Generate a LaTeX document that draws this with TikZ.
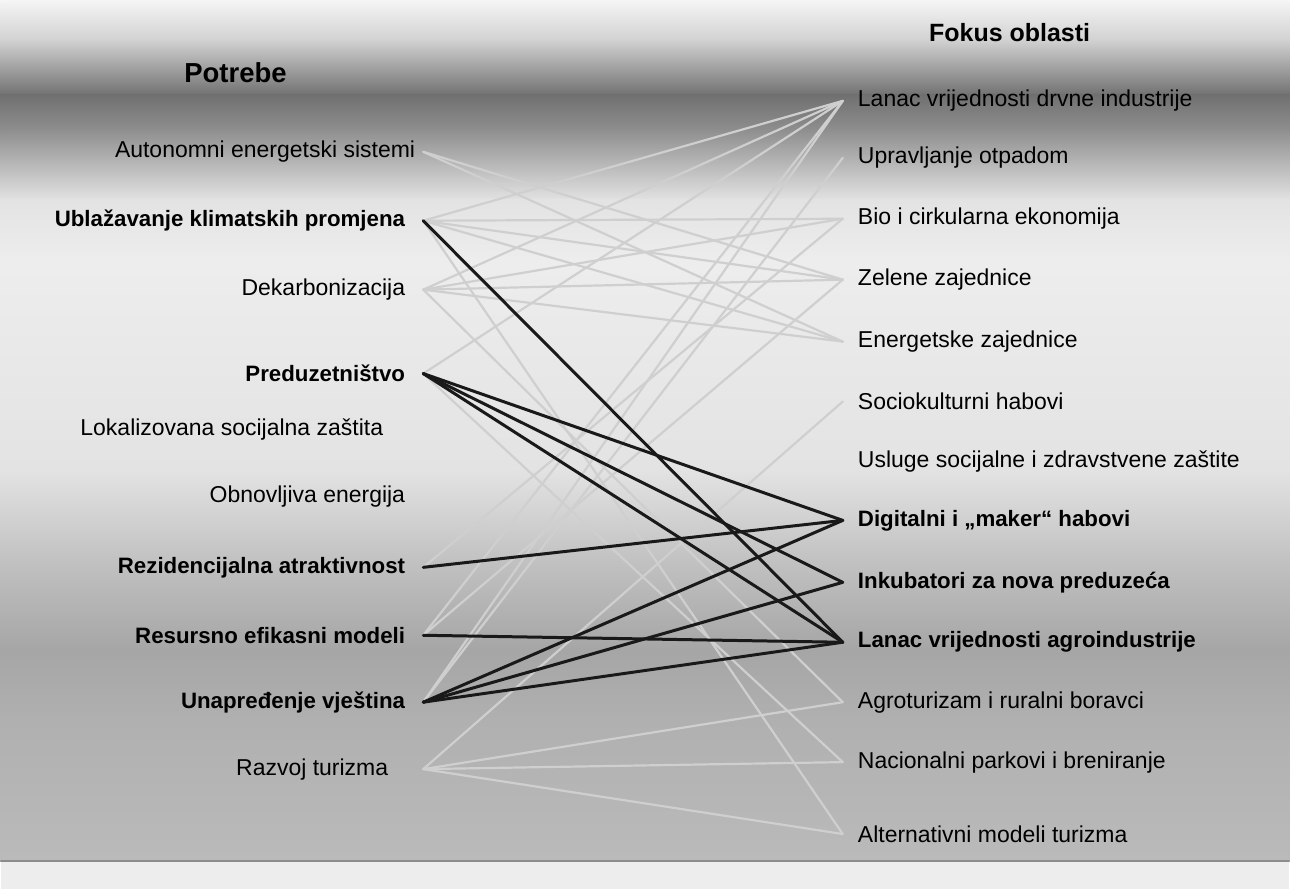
\documentclass[tikz,border=0pt]{standalone}
\usepackage{fontspec}
\setmainfont{Liberation Sans}
\usetikzlibrary{positioning}

\tikzset{
  need/.style={anchor=east, inner xsep=18pt, inner ysep=0pt, font=\fontsize{23}{27}\selectfont},
  needb/.style={need, font=\fontsize{22.3}{27}\selectfont\bfseries},
  area/.style={anchor=west, inner xsep=15pt, inner ysep=0pt, font=\fontsize{23}{27}\selectfont},
  areab/.style={area, font=\fontsize{22.3}{27}\selectfont\bfseries},
  head/.style={font=\fontsize{25}{30}\selectfont\bfseries},
  weak/.style={draw=black!19, line width=2.2pt},
  strong/.style={draw=black!90, line width=3pt},
}

\begin{document}
\begin{tikzpicture}[x=1pt,y=-1pt,line cap=round]

    % scanned grey background
    \shade[top color=black!4, bottom color=black!18] (0,0) rectangle (1290,41);
    \shade[top color=black!18, bottom color=black!56] (0,40) rectangle (1290,96);
    \shade[top color=black!56, bottom color=black!44] (0,95) rectangle (1290,131);
    \shade[top color=black!44, bottom color=black!11] (0,130) rectangle (1290,201);
    \shade[top color=black!11, bottom color=black!7] (0,200) rectangle (1290,261);
    \shade[top color=black!7, bottom color=black!11] (0,260) rectangle (1290,471);
    \shade[top color=black!11, bottom color=black!24] (0,470) rectangle (1290,561);
    \shade[top color=black!24, bottom color=black!35] (0,560) rectangle (1290,651);
    \shade[top color=black!35, bottom color=black!31] (0,650) rectangle (1290,721);
    \shade[top color=black!31, bottom color=black!27] (0,720) rectangle (1290,862);
    \fill[black!7] (0,862) rectangle (1290,890);
    \draw[black!45, line width=1.5pt] (0,862) -- (1290,862);
    \useasboundingbox (0,0) rectangle (1290,890);

    \node[head, font=\fontsize{27.5}{30}\selectfont\bfseries] (pot) at (235,73) {Potrebe};
    \node[head] (fok) at (1010,33) {Fokus oblasti};

    % needs
    \node[need, inner xsep=8pt] (aut) at (423,152) {Autonomni energetski sistemi};
    \node[needb] (ubl) at (423,221) {Ublažavanje klimatskih promjena};
    \node[need] (dek) at (423,290) {Dekarbonizacija};
    \node[needb] (pre) at (423,374) {Preduzetništvo};
    \node[need, inner xsep=40pt] (lok) at (423,430) {Lokalizovana socijalna zaštita};
    \node[need] (obn) at (423,497) {Obnovljiva energija};
    \node[needb] (rez) at (423,568) {Rezidencijalna atraktivnost};
    \node[needb] (res) at (423,636) {Resursno efikasni modeli};
    \node[needb] (una) at (423,703) {Unapređenje vještina};
    \node[need, inner xsep=35pt] (raz) at (423,770) {Razvoj turizma};

    % focus areas
    \node[area] (drv) at (843,101) {Lanac vrijednosti drvne industrije};
    \node[area] (otp) at (843,158) {Upravljanje otpadom};
    \node[area] (bio) at (843,219) {Bio i cirkularna ekonomija};
    \node[area] (zel) at (843,280) {Zelene zajednice};
    \node[area] (ene) at (843,342) {Energetske zajednice};
    \node[area] (soc) at (843,402) {Sociokulturni habovi};
    \node[area] (usl) at (843,462) {Usluge socijalne i zdravstvene zaštite};
    \node[areab] (dig) at (843,521) {Digitalni i „maker“ habovi};
    \node[areab] (ink) at (843,583) {Inkubatori za nova preduzeća};
    \node[areab] (agr) at (843,643) {Lanac vrijednosti agroindustrije};
    \node[area] (tur) at (843,703) {Agroturizam i ruralni boravci};
    \node[area] (nac) at (843,763) {Nacionalni parkovi i breniranje};
    \node[area] (alt) at (843,835) {Alternativni modeli turizma};

    % other links
    \draw[weak] (aut.east) -- (ene.west);
    \draw[weak] (aut.east) -- (zel.west);
    \draw[weak] (ubl.east) -- (drv.west);
    \draw[weak] (ubl.east) -- (bio.west);
    \draw[weak] (ubl.east) -- (zel.west);
    \draw[weak] (ubl.east) -- (ene.west);
    \draw[weak] (ubl.east) -- (alt.west);
    \draw[weak] (dek.east) -- (drv.west);
    \draw[weak] (dek.east) -- (bio.west);
    \draw[weak] (dek.east) -- (zel.west);
    \draw[weak] (dek.east) -- (ene.west);
    \draw[weak] (dek.east) -- (tur.west);
    \draw[weak] (pre.east) -- (drv.west);
    \draw[weak] (pre.east) -- (nac.west);
    \draw[weak] (rez.east) -- (bio.west);
    \draw[weak] (res.east) -- (drv.west);
    \draw[weak] (res.east) -- (zel.west);
    \draw[weak] (una.east) -- (drv.west);
    \draw[weak] (una.east) -- (otp.west);
    \draw[weak] (raz.east) -- (soc.west);
    \draw[weak] (raz.east) -- (tur.west);
    \draw[weak] (raz.east) -- (nac.west);
    \draw[weak] (raz.east) -- (alt.west);

    % highlighted links
    \draw[strong] (ubl.east) -- (agr.west);
    \draw[strong] (pre.east) -- (dig.west);
    \draw[strong] (pre.east) -- (ink.west);
    \draw[strong] (pre.east) -- (agr.west);
    \draw[strong] (rez.east) -- (dig.west);
    \draw[strong] (res.east) -- (agr.west);
    \draw[strong] (una.east) -- (dig.west);
    \draw[strong] (una.east) -- (ink.west);
    \draw[strong] (una.east) -- (agr.west);

\end{tikzpicture}
\end{document}
